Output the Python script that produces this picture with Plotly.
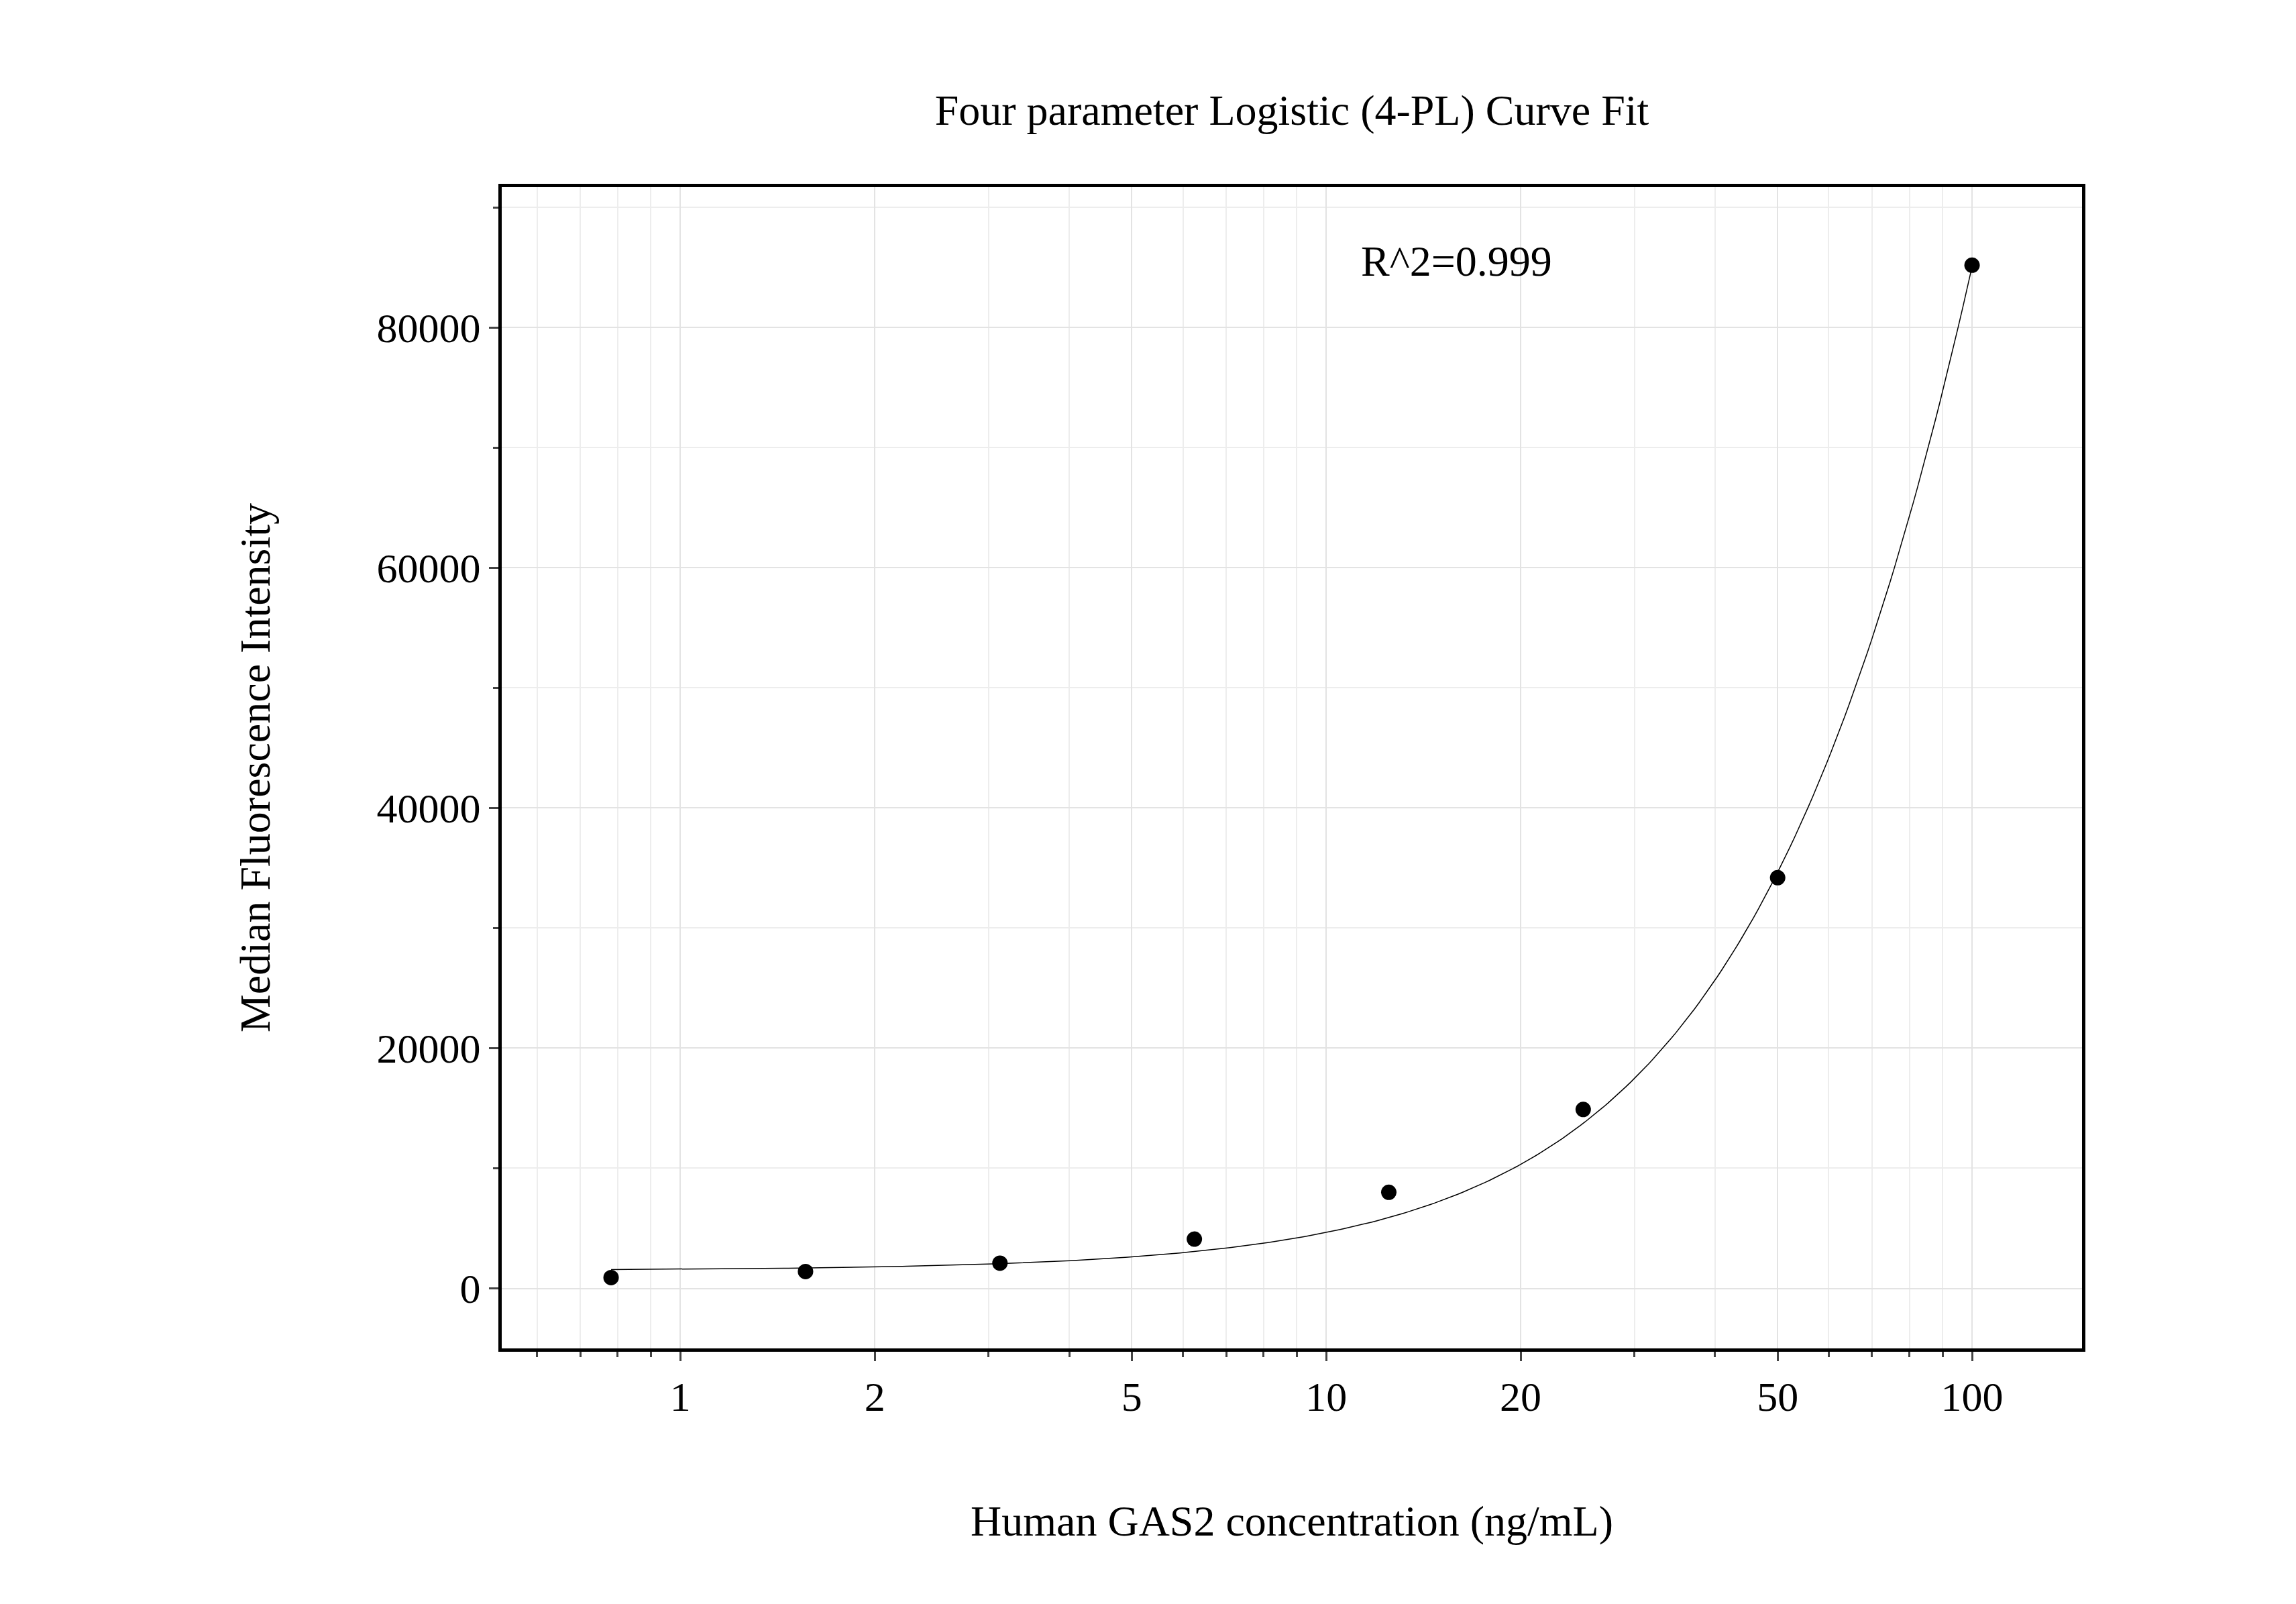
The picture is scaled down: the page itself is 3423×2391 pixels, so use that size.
import numpy as np
import plotly.graph_objects as go

conc = [0.78125, 1.5625, 3.125, 6.25, 12.5, 25, 50, 100]
mfi = [900, 1400, 2100, 4100, 8000, 14900, 34200, 85200]
xtick_vals = [1, 2, 5, 10, 20, 50, 100]
ytick_vals = [0, 20000, 40000, 60000, 80000]
ytick_text = ["0", "20000", "40000", "60000", "80000"]

# 4PL fit parameters (estimated)
A, B, C, D = 1500, 1.5, 291, 500000
xf = np.logspace(np.log10(conc[0]), np.log10(conc[-1]), 300)
yf = D + (A - D) / (1 + (xf / C) ** B)

F = "Liberation Serif"
fig = go.Figure()
fig.add_trace(go.Scatter(x=xf, y=yf, mode="lines", line=dict(color="black", width=1.5), hoverinfo="skip"))
fig.add_trace(go.Scatter(x=conc, y=mfi, mode="markers", marker=dict(color="black", size=23)))
fig.add_annotation(x=0.543, y=0.936, xref="paper", yref="paper", text="R^2=0.999", showarrow=False,
                   xanchor="left", yanchor="middle", font=dict(family=F, size=64, color="black"))
fig.update_layout(
    width=3423, height=2391, showlegend=False, plot_bgcolor="white", paper_bgcolor="white",
    margin=dict(l=740, r=327, t=271, b=389),
    title=dict(text="Four parameter Logistic (4-PL) Curve Fit", x=0.5, xref="paper", y=0.935, yanchor="middle",
               font=dict(family=F, size=64, color="black")),
    font=dict(family=F, size=62, color="black"),
)
fig.update_xaxes(type="log", range=[np.log10(0.529), np.log10(148)], tickvals=xtick_vals,
                 ticks="outside", ticklen=14, tickwidth=3, showline=True, linewidth=5, linecolor="black",
                 mirror=True, showgrid=True, gridcolor="#e3e3e3", gridwidth=2,
                 minor=dict(ticks="outside", ticklen=8, tickwidth=3, dtick="D1", showgrid=True, gridcolor="#ededed"),
                 title=dict(text="Human GAS2 concentration (ng/mL)", standoff=130, font=dict(size=64)))
fig.update_yaxes(range=[-5000, 91700], tickvals=ytick_vals, ticktext=ytick_text, ticks="outside", ticklen=14, tickwidth=3,
                 showline=True, linewidth=5, linecolor="black", mirror=True, zeroline=False,
                 showgrid=True, gridcolor="#e3e3e3", gridwidth=2,
                 minor=dict(ticks="outside", ticklen=8, tickwidth=3, dtick=10000, showgrid=True, gridcolor="#ededed"),
                 title=dict(text="Median Fluorescence Intensity", standoff=140, font=dict(size=64)))
fig.write_html("out.html")
